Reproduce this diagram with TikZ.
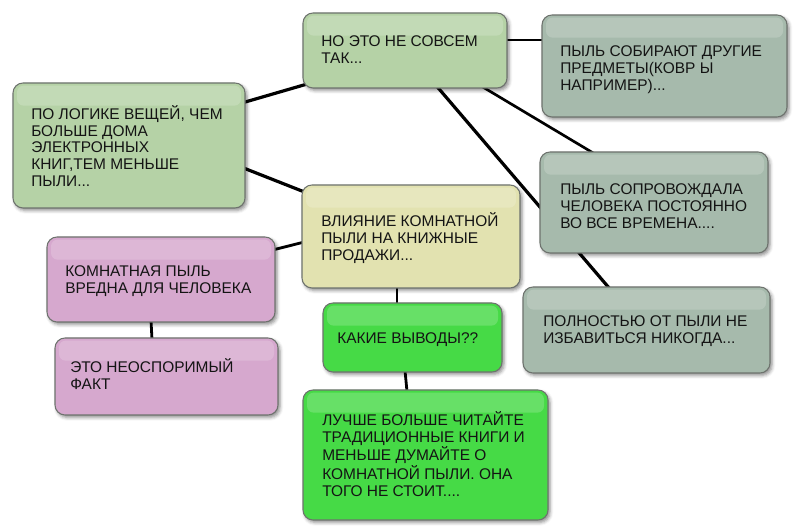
\documentclass[tikz,border=0pt]{standalone}
\usepackage{fontspec}
\setmainfont{Liberation Sans}
\usetikzlibrary{calc,shadows.blur}
\pgfdeclarelayer{background}
\pgfsetlayers{background,main}
\definecolor{cgreen}{RGB}{181,210,166}
\definecolor{cgray}{RGB}{166,186,172}
\definecolor{cyellow}{RGB}{226,226,176}
\definecolor{cpink}{RGB}{214,168,206}
\definecolor{cbright}{RGB}{70,218,70}
\definecolor{cborder}{RGB}{110,115,110}
\definecolor{ctext}{RGB}{20,20,20}
\begin{document}
\begin{tikzpicture}[x=0.75pt,y=-0.75pt,
  box/.style={rectangle, rounded corners=7.5pt, draw=cborder, line width=0.8pt,
    inner sep=0pt,
    blur shadow={shadow xshift=1.5pt, shadow yshift=-1.8pt, shadow blur radius=2.5pt, shadow opacity=45},
    path picture={\fill[white,opacity=0.18,rounded corners=5pt]
      ([xshift=3pt,yshift=-2pt]path picture bounding box.north west) rectangle
      ([xshift=-3pt,yshift=-17pt]path picture bounding box.north east);}},
  txt/.style={anchor=west, align=left, inner sep=0pt, text=ctext,
    font=\fontsize{11.6pt}{12.6pt}\selectfont},
  link/.style={line width=2.4pt, black}]
\useasboundingbox (0,0) rectangle (800,530);

% boxes
\node[box, fill=cgreen, minimum width=232*0.75pt, minimum height=125*0.75pt] (A) at (129,145.5) {};
\node[box, fill=cgreen, minimum width=204*0.75pt, minimum height=75*0.75pt] (B) at (405,50.5) {};
\node[box, fill=cgray, minimum width=245*0.75pt, minimum height=102*0.75pt] (C) at (664.5,66) {};
\node[box, fill=cgray, minimum width=228*0.75pt, minimum height=101*0.75pt] (D) at (654,202.5) {};
\node[box, fill=cgray, minimum width=247*0.75pt, minimum height=86*0.75pt] (E) at (646.5,330) {};
\node[box, fill=cyellow, minimum width=218*0.75pt, minimum height=103*0.75pt] (F) at (411,236.5) {};
\node[box, fill=cpink, minimum width=228*0.75pt, minimum height=85*0.75pt] (G) at (161,279.5) {};
\node[box, fill=cpink, minimum width=223*0.75pt, minimum height=77*0.75pt] (H) at (166.5,376.5) {};
\node[box, fill=cbright, minimum width=179*0.75pt, minimum height=69*0.75pt] (I) at (412.5,337.5) {};
\node[box, fill=cbright, minimum width=245*0.75pt, minimum height=130*0.75pt] (J) at (425.5,455) {};

% texts
\node[txt] (tA) at (31,146) {ПО ЛОГИКЕ ВЕЩЕЙ, ЧЕМ\\БОЛЬШЕ ДОМА\\ЭЛЕКТРОННЫХ\\КНИГ,ТЕМ МЕНЬШЕ\\ПЫЛИ...};
\node[txt] (tB) at (321,50) {НО ЭТО НЕ СОВСЕМ\\ТАК...};
\node[txt] (tC) at (560,70) {ПЫЛЬ СОБИРАЮТ ДРУГИЕ\\ПРЕДМЕТЫ(КОВР Ы\\НАПРИМЕР)...};
\node[txt] (tD) at (560,206) {ПЫЛЬ СОПРОВОЖДАЛА\\ЧЕЛОВЕКА ПОСТОЯННО\\ВО ВСЕ ВРЕМЕНА....};
\node[txt] (tE) at (543,331) {ПОЛНОСТЬЮ ОТ ПЫЛИ НЕ\\ИЗБАВИТЬСЯ НИКОГДА...};
\node[txt] (tF) at (321,238) {ВЛИЯНИЕ КОМНАТНОЙ\\ПЫЛИ НА КНИЖНЫЕ\\ПРОДАЖИ...};
\node[txt] (tG) at (65,281) {КОМНАТНАЯ ПЫЛЬ\\ВРЕДНА ДЛЯ ЧЕЛОВЕКА};
\node[txt] (tH) at (70,374) {ЭТО НЕОСПОРИМЫЙ\\ФАКТ};
\node[txt] (tI) at (337,340) {КАКИЕ ВЫВОДЫ??};
\node[txt] (tJ) at (322,454) {ЛУЧШЕ БОЛЬШЕ ЧИТАЙТЕ\\ТРАДИЦИОННЫЕ КНИГИ И\\МЕНЬШЕ ДУМАЙТЕ О\\КОМНАТНОЙ ПЫЛИ. ОНА\\ТОГО НЕ СТОИТ....};

% connectors
\begin{pgfonlayer}{background}
\draw[link] ($(A.east)+(-2,-43)$) -- ($(B.west)+(3,34)$);
\draw[link] ($(A.east)+(-2,22.5)$) -- ($(F.west)+(3,-44.5)$);
\draw[link, line width=2.1pt] ($(B.east)+(-2,-10.5)$) -- ($(C.west)+(2,-26)$);
\draw[link, line width=2.4pt] ($(B.south)+(32,-2)$) -- ($(E.north)+(-37,2)$);
\draw[link, line width=2pt] ($(B.south)+(77,-2)$) -- ($(D.north)+(-60,2)$);
\draw[link, line width=2.1pt] ($(G.east)+(-3,-29.5)$) -- ($(F.west)+(3,5.5)$);
\draw[link, line width=2.1pt] ($(G.south)+(-10,-2)$) -- ($(H.north)+(-14.5,2)$);
\draw[link, line width=2.1pt] ($(F.south)+(-14,-2)$) -- ($(I.north)+(-15.5,2)$);
\draw[link, line width=2.1pt] ($(I.south)+(-7.5,-2)$) -- ($(J.north)+(-18.5,2)$);
\end{pgfonlayer}
\end{tikzpicture}
\end{document}
